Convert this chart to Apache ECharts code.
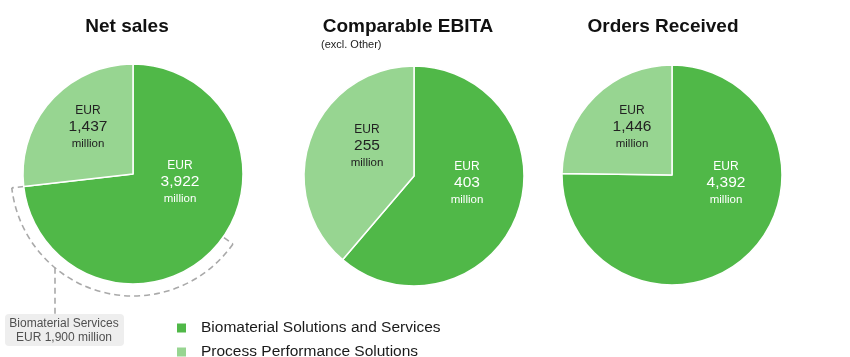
<!DOCTYPE html>
<html><head><meta charset="utf-8">
<script src="https://cdn.jsdelivr.net/npm/echarts@6/dist/echarts.min.js"></script>
<style>html,body{margin:0;padding:0;background:#fff}#c{width:850px;height:357px}</style>
</head><body><div id="c"></div>
<script>
var categories = ['Biomaterial Solutions and Services', 'Process Performance Solutions'];
var chartTitles = ['Net sales', 'Comparable EBITA', 'Orders Received'];
var netSales = [3922, 1437];
var comparableEbita = [403, 255];
var ordersReceived = [4392, 1446];
var biomaterialServices = 1900;

var FONT = '"Liberation Sans", Arial, sans-serif';
var COLORS = ['#50b848', '#97d591'];
var R = 110;
var centers = [[133, 174], [414, 176], [672, 175]];
var labelOffsets = [
  [[47, 8], [-45, -47]],
  [[53, 7], [-47, -30]],
  [[54, 8], [-40, -48]]
];
var allValues = [netSales, comparableEbita, ordersReceived];

function fmt(v) { return v.toLocaleString('en-US'); }

var series = allValues.map(function (vals, si) {
  return {
    type: 'pie',
    center: centers[si],
    radius: [0, R],
    startAngle: 90,
    clockwise: true,
    silent: true,
    itemStyle: { borderColor: '#fff', borderWidth: 1.5 },
    data: vals.map(function (v, i) {
      return {
        name: categories[i], value: v,
        itemStyle: { color: COLORS[i] },
        label: { color: i === 0 ? '#ffffff' : '#222222' }
      };
    }),
    label: {
      show: true,
      position: 'inside',
      fontFamily: FONT,
      formatter: function (p) { return '{a|EUR}\n{b|' + fmt(p.value) + '}\n{c|million}'; },
      rich: {
        a: { fontSize: 12, lineHeight: 16, fontFamily: FONT },
        b: { fontSize: 15.5, lineHeight: 17, fontFamily: FONT },
        c: { fontSize: 11.5, lineHeight: 16, fontFamily: FONT }
      }
    },
    labelLine: { show: false },
    labelLayout: function (p) {
      var o = labelOffsets[si][p.dataIndex];
      return { x: centers[si][0] + o[0], y: centers[si][1] + o[1], align: 'center', verticalAlign: 'middle' };
    }
  };
});

// annotation arc on Net sales: starts at boundary between slices
var total = netSales[0] + netSales[1];
var boundaryDeg = 90 + netSales[1] / total * 360; // degrees counter-clockwise from +x
var startA = Math.PI - (boundaryDeg - 180) * Math.PI / 180; // screen angle (clockwise, y down)
var spanDeg = 138.5;
var endA = startA - spanDeg * Math.PI / 180;
var cx = centers[0][0], cy = centers[0][1], RA = 122;
var dashStyle = { stroke: '#a9a9a9', lineWidth: 1.6, lineDash: [6, 4], fill: null };
function pt(r, a) { return [cx + r * Math.cos(a), cy + r * Math.sin(a)]; }
var vx = 55;
var vy = cy + Math.sqrt(RA * RA - (vx - cx) * (vx - cx));

var graphics = [
  { type: 'arc', silent: true, shape: { cx: cx, cy: cy, r: RA, startAngle: endA, endAngle: startA, clockwise: true }, style: dashStyle },
  { type: 'line', silent: true, shape: { x1: pt(R, startA)[0], y1: pt(R, startA)[1], x2: pt(RA, startA)[0], y2: pt(RA, startA)[1] }, style: dashStyle },
  { type: 'line', silent: true, shape: { x1: pt(R + 1, endA)[0], y1: pt(R + 1, endA)[1], x2: pt(RA, endA)[0], y2: pt(RA, endA)[1] }, style: dashStyle },
  { type: 'line', silent: true, shape: { x1: vx, y1: vy, x2: vx, y2: 314 }, style: dashStyle },
  { type: 'rect', silent: true, shape: { x: 5, y: 314, width: 119, height: 32, r: 4 }, style: { fill: '#eeeeee' } },
  { type: 'text', silent: true, x: 64, y: 324, style: { text: 'Biomaterial Services', font: '12px ' + FONT, fill: '#505050', textAlign: 'center', textVerticalAlign: 'middle' } },
  { type: 'text', silent: true, x: 64, y: 337.5, style: { text: 'EUR ' + fmt(biomaterialServices) + ' million', font: '12px ' + FONT, fill: '#505050', textAlign: 'center', textVerticalAlign: 'middle' } },
  { type: 'text', silent: true, x: 127, y: 27, style: { text: chartTitles[0], font: 'bold 19px ' + FONT, fill: '#111', textAlign: 'center', textVerticalAlign: 'middle' } },
  { type: 'text', silent: true, x: 408, y: 27, style: { text: chartTitles[1], font: 'bold 19px ' + FONT, fill: '#111', textAlign: 'center', textVerticalAlign: 'middle' } },
  { type: 'text', silent: true, x: 321, y: 45, style: { text: '(excl. Other)', font: '11px ' + FONT, fill: '#222', textAlign: 'left', textVerticalAlign: 'middle' } },
  { type: 'text', silent: true, x: 663, y: 27, style: { text: chartTitles[2], font: 'bold 19px ' + FONT, fill: '#111', textAlign: 'center', textVerticalAlign: 'middle' } }
];

function legendFor(i, top) {
  return {
    data: [categories[i]],
    orient: 'horizontal',
    left: 175, top: top,
    icon: 'rect',
    itemWidth: 11, itemHeight: 11,
    selectedMode: false,
    padding: 0,
    textStyle: { fontFamily: FONT, fontSize: 15.5, color: '#1a1a1a', lineHeight: 16, padding: [0, 0, 0, 9] }
  };
}

var chart = echarts.init(document.getElementById('c'), null, { renderer: 'canvas' });
chart.setOption({
  animation: false,
  backgroundColor: '#ffffff',
  legend: [legendFor(0, 320), legendFor(1, 344)],
  series: series,
  graphic: graphics
});
</script></body></html>
